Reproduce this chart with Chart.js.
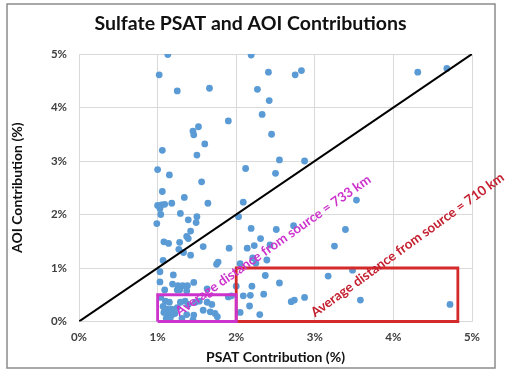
<!DOCTYPE html>
<html>
<head>
<meta charset="utf-8">
<script src="https://cdn.jsdelivr.net/npm/chart.js@4.4.0/dist/chart.umd.min.js"></script>
<style>
  html, body { margin: 0; padding: 0; background: #fff; }
  #wrap { width: 505px; height: 370px; }
</style>
</head>
<body>
<div id="wrap"><canvas id="chart"></canvas></div>
<script>
// PSAT contribution (%) of each point, and the matching AOI contribution (%)
const psat = [
  1.13, 1.02, 1.25, 1.66, 2.19, 2.41, 2.75, 2.83, 2.27, 2.42, 2.33, 1.90, 1.52, 1.45, 1.46, 1.60, 2.45, 1.06, 1.50, 2.55,
  2.87, 1.00, 1.15, 1.56, 2.12, 2.50, 4.31, 4.68,
  1.06, 1.34, 1.64, 2.09, 1.00, 1.05, 1.09, 1.03, 1.18, 1.04, 1.29, 1.39, 1.50, 1.49, 0.99, 2.03, 1.42, 1.37, 1.39, 1.08,
  1.14, 1.28, 1.27, 1.33, 1.42, 1.58, 1.91, 3.53, 2.19, 2.51, 2.73, 3.39, 2.31, 2.23, 2.14, 2.43, 3.25, 2.39, 2.25, 2.05, 2.21,
  1.07, 1.75, 1.77, 3.48, 2.37, 3.17, 2.55, 1.20, 1.03, 1.03, 1.19, 1.26, 1.32, 1.38, 1.46, 1.09, 1.25, 1.28, 1.37, 1.63,
  2.00, 2.20, 2.09, 2.18, 2.35, 1.94, 2.70, 2.74, 2.87, 3.58, 2.17, 2.05, 2.30, 4.72,
  1.04, 1.10, 1.15, 1.07, 1.12, 1.18, 1.08, 1.13, 1.18, 1.22, 1.11, 1.16, 1.29, 1.35, 1.39, 1.48, 1.53, 1.63, 1.69, 1.73,
  1.76, 1.46, 1.45, 1.31, 1.37, 1.58, 1.67, 1.90, 1.25
];
const aoi = [
  4.99, 4.61, 4.31, 4.36, 4.98, 4.66, 4.61, 4.69, 4.34, 4.13, 3.87, 3.75, 3.64, 3.56, 3.49, 3.32, 3.50, 3.20, 3.11, 3.02,
  3.00, 2.84, 2.74, 2.61, 2.86, 2.77, 4.66, 4.73,
  2.43, 2.32, 2.21, 2.23, 2.17, 2.18, 2.19, 2.11, 2.21, 2.00, 2.02, 1.90, 1.96, 1.85, 1.83, 1.96, 1.69, 1.59, 1.55, 1.49,
  1.46, 1.48, 1.35, 1.29, 1.24, 1.40, 1.37, 2.27, 1.74, 1.72, 1.79, 1.72, 1.55, 1.42, 1.37, 1.43, 1.41, 1.15, 1.09, 1.08, 1.19,
  1.14, 1.07, 1.11, 0.96, 0.86, 0.85, 0.72, 0.87, 0.93, 0.74, 0.70, 0.67, 0.67, 0.67, 0.73, 0.59, 0.59, 0.59, 0.57, 0.61,
  0.66, 0.66, 0.48, 0.49, 0.51, 0.48, 0.37, 0.40, 0.45, 0.40, 0.29, 0.17, 0.13, 0.32,
  0.45, 0.38, 0.36, 0.28, 0.23, 0.23, 0.17, 0.13, 0.12, 0.15, 0.06, 0.05, 0.36, 0.38, 0.32, 0.36, 0.38, 0.36, 0.32, 0.15,
  0.09, 0.12, 0.03, 0.06, 0.13, 0.21, 0.18, 0.46, 0.26
];

// 1:1 line and the two highlighted regions (in % units)
const lineX = [0, 5];
const lineY = [0, 5];
const nearX = [1, 1, 2, 2, 1];
const nearY = [0, 0.5, 0.5, 0, 0];
const farX = [2, 2, 4.82, 4.82, 2];
const farY = [0, 1, 1, 0, 0];

const tickValues = [0, 1, 2, 3, 4, 5];
const noteTexts = ['Average distance from source = 733 km', 'Average distance from source = 710 km'];

const BLUE = '#5b9bd5';
const MAGENTA = '#cc33cc';
const RED = '#d42a2a';

function pts(xs, ys) {
  return xs.map((x, i) => ({x: x, y: ys[i]}));
}

// gray frame round the whole picture
const frame = {
  id: 'frame',
  beforeDraw(chart) {
    const ctx = chart.ctx;
    ctx.save();
    ctx.fillStyle = '#fff';
    ctx.fillRect(0, 0, chart.width, chart.height);
    ctx.strokeStyle = '#8c8c8c';
    ctx.lineWidth = 1.5;
    ctx.strokeRect(7, 4, 488, 364);
    ctx.restore();
  }
};

// the two rotated notes
const notes = {
  id: 'notes',
  afterDatasetsDraw(chart, args, opts) {
    const ctx = chart.ctx;
    const xs = chart.scales.x, ys = chart.scales.y;
    opts.items.forEach((n, i) => {
      ctx.save();
      ctx.translate(xs.getPixelForValue(n.x), ys.getPixelForValue(n.y));
      ctx.rotate(n.angle * Math.PI / 180);
      ctx.font = opts.font;
      ctx.fillStyle = n.color;
      ctx.textAlign = 'center';
      ctx.textBaseline = 'middle';
      ctx.fillText(noteTexts[i], 0, 0);
      ctx.restore();
    });
  }
};

const tickFont = {family: 'Lato', size: 11.5, weight: 'bold'};
const titleFont = {family: 'Lato', size: 14, weight: 'bold'};

new Chart(document.getElementById('chart'), {
  type: 'scatter',
  data: {
    datasets: [
      {
        data: pts(psat, aoi),
        backgroundColor: BLUE,
        borderWidth: 0,
        pointRadius: 3.4,
        order: 5
      },
      {
        data: pts(lineX, lineY),
        showLine: true,
        borderColor: '#000',
        borderWidth: 2,
        pointRadius: 0,
        order: 1
      },
      {
        data: pts(nearX, nearY),
        showLine: true,
        borderColor: MAGENTA,
        borderWidth: 2.8,
        pointRadius: 0,
        clip: false,
        order: 2
      },
      {
        data: pts(farX, farY),
        showLine: true,
        borderColor: RED,
        borderWidth: 2.8,
        pointRadius: 0,
        clip: false,
        order: 3
      }
    ]
  },
  options: {
    responsive: true,
    maintainAspectRatio: false,
    animation: false,
    layout: {padding: {left: 29, right: 33, top: 2, bottom: 0}},
    plugins: {
      legend: {display: false},
      tooltip: {enabled: false},
      title: {
        display: true,
        text: 'Sulfate PSAT and AOI Contributions',
        color: '#111',
        font: {family: 'Lato', size: 19.5, weight: 'bold'},
        padding: {top: 10, bottom: 18.6}
      },
      notes: {
        font: 'bold 13.4px Lato',
        items: [
          {x: 2.47, y: 1.42, angle: -35, color: MAGENTA},
          {x: 4.18, y: 1.43, angle: -36, color: '#c42030'}
        ]
      }
    },
    scales: {
      x: {
        type: 'linear',
        min: 0,
        max: 5,
        afterBuildTicks: (s) => { s.ticks = tickValues.map(v => ({value: v})); },
        afterFit: (s) => { s.height = 48.5; },
        ticks: {
          callback: (v) => v + '%',
          font: tickFont,
          color: '#404040',
          padding: 9
        },
        grid: {color: '#d9d9d9', drawTicks: false},
        border: {display: false},
        title: {
          display: true,
          text: 'PSAT Contribution (%)',
          color: '#111',
          font: titleFont,
          padding: {top: 0, bottom: 4.6}
        }
      },
      y: {
        type: 'linear',
        min: 0,
        max: 5,
        afterBuildTicks: (s) => { s.ticks = tickValues.map(v => ({value: v})); },
        afterFit: (s) => { s.width = 50; },
        ticks: {
          callback: (v) => v + '%',
          font: tickFont,
          color: '#404040',
          padding: 12
        },
        grid: {color: '#d9d9d9', drawTicks: false},
        border: {display: false},
        title: {
          display: true,
          text: 'AOI Contribution (%)',
          color: '#111',
          font: titleFont,
          padding: {top: -20.4, bottom: 0}
        }
      }
    }
  },
  plugins: [frame, notes]
});
</script>
</body>
</html>
